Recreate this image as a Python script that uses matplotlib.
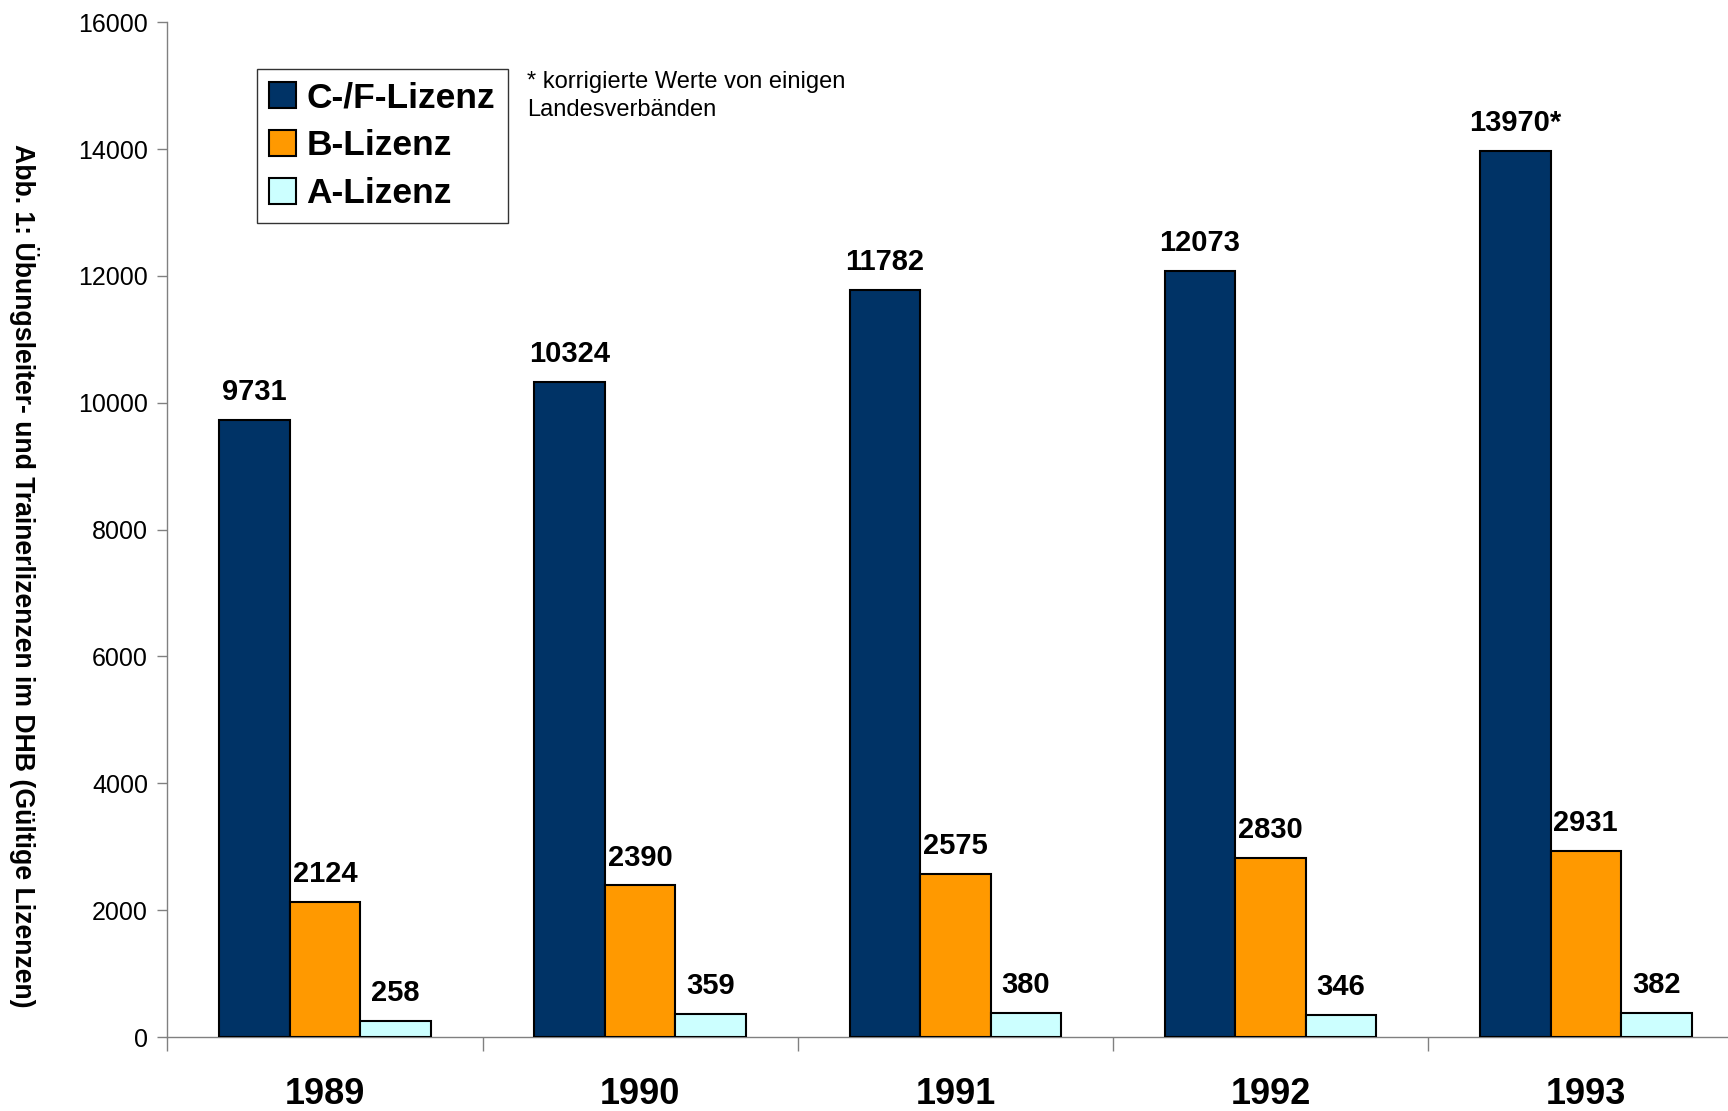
import matplotlib
matplotlib.use("Agg")
import matplotlib.pyplot as plt
import numpy as np
from matplotlib.patches import Patch

years = ["1989", "1990", "1991", "1992", "1993"]
c_f = [9731, 10324, 11782, 12073, 13970]
b = [2124, 2390, 2575, 2830, 2931]
a = [258, 359, 380, 346, 382]
series_names = ["C-/F-Lizenz", "B-Lizenz", "A-Lizenz"]
label_texts = [
    ["9731", "10324", "11782", "12073", "13970*"],
    ["2124", "2390", "2575", "2830", "2931"],
    ["258", "359", "380", "346", "382"],
]
yticks = [0, 2000, 4000, 6000, 8000, 10000, 12000, 14000, 16000]

plt.rcParams['font.family'] = ['Liberation Sans', 'DejaVu Sans']

fig = plt.figure(figsize=(17.28, 11.11), dpi=100)
ax = fig.add_axes([0.0969, 0.0666, 1.0089 - 0.0969, 0.980 - 0.0666])

colors = ["#003366", "#FF9900", "#CCFFFF"]
w = 0.2238
x = np.arange(len(years))
for i, (vals, col) in enumerate(zip([c_f, b, a], colors)):
    pos = x + (i - 1) * w
    ax.bar(pos, vals, width=w, color=col, edgecolor="black", linewidth=1.5, zorder=3)
    for p, v, t in zip(pos, vals, label_texts[i]):
        ax.annotate(t, (p, v), xytext=(0, 10), textcoords="offset points",
                    ha="center", va="bottom", fontsize=21, fontweight="bold")

ax.set_xlim(-0.5, 4.5)
ax.set_ylim(0, 16000)
ax.set_yticks(yticks)
ax.set_yticklabels([str(t) for t in yticks], fontsize=18)
ax.tick_params(axis="y", length=7, width=1, color="#808080", pad=7)

ax.set_xticks(np.arange(-0.5, 4.6, 1.0))
ax.set_xticklabels([])
ax.tick_params(axis="x", which="major", length=10, width=1, color="#808080")
ax.set_xticks(x, minor=True)
ax.set_xticklabels(years, minor=True, fontsize=26, fontweight="bold")
ax.tick_params(axis="x", which="minor", length=0, pad=29)

for s in ["top", "right"]:
    ax.spines[s].set_visible(False)
for s in ["left", "bottom"]:
    ax.spines[s].set_color("#808080")
    ax.spines[s].set_linewidth(1)

fig.text(0.014, 0.482, "Abb. 1: Übungsleiter- und Trainerlizenzen im DHB (Gültige Lizenzen)",
         rotation=270, ha="center", va="center", fontsize=19.2, fontweight="bold")

handles = [Patch(facecolor=c, edgecolor="black", linewidth=1.5) for c in colors]
leg = ax.legend(handles, series_names, loc="upper left",
                bbox_to_anchor=(257 / 1728, 1 - 69 / 1111), bbox_transform=fig.transFigure,
                prop={"size": 25.5, "weight": "bold"}, frameon=True, fancybox=False,
                handlelength=0.75, handleheight=0.75, handletextpad=0.3,
                labelspacing=0.42, borderpad=0.35, borderaxespad=0)
leg.get_frame().set_edgecolor("black")
leg.get_frame().set_linewidth(1)

fig.text(527 / 1728, 1 - 71 / 1111, "* korrigierte Werte von einigen\nLandesverbänden",
         ha="left", va="top", fontsize=17, linespacing=1.35)

fig.savefig("out.png", dpi=100)
